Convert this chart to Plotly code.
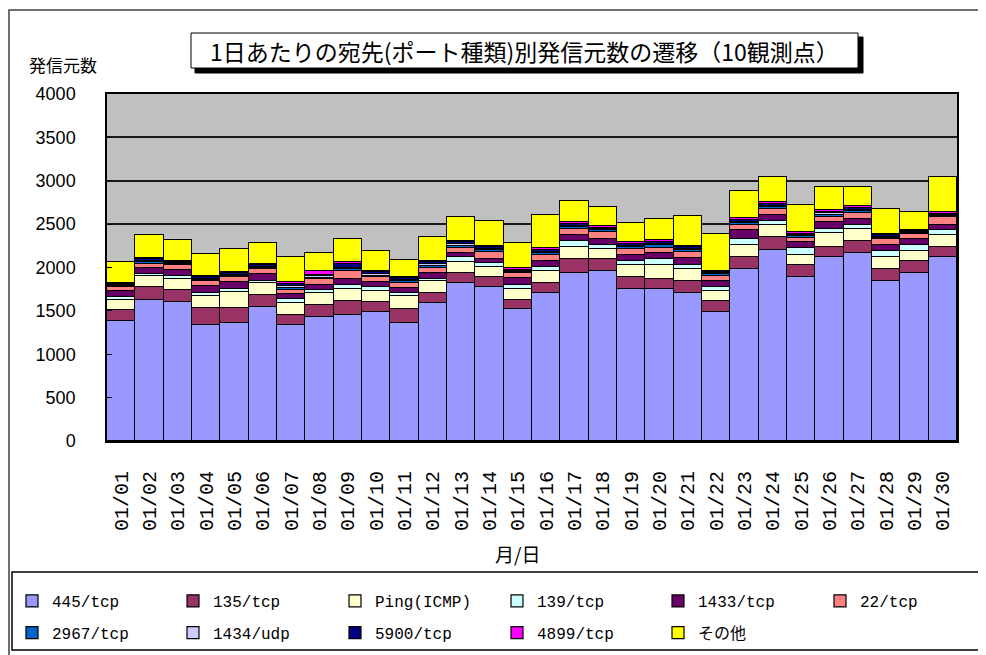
import plotly.graph_objects as go

dates = ["01/%02d" % d for d in range(1, 31)]

s445 = [1380, 1630, 1597, 1341, 1364, 1544, 1341, 1429, 1456, 1483,
        1360, 1594, 1824, 1774, 1525, 1705, 1942, 1961, 1751, 1755,
        1705, 1483, 1984, 2207, 1885, 2122, 2168, 1846, 1935, 2126]
s135 = [135, 140, 138, 191, 165, 142, 115, 142, 161, 118,
        165, 111, 111, 115, 99, 115, 153, 138, 141, 115,
        141, 134, 138, 145, 145, 115, 134, 138, 141, 111]
sping = [115, 130, 131, 134, 184, 138, 138, 134, 137, 130,
         141, 141, 134, 115, 130, 141, 146, 119, 135, 157,
         138, 115, 138, 138, 115, 157, 142, 134, 119, 138]
s139 = [35, 30, 38, 43, 42, 20, 46, 30, 50, 50,
        43, 24, 49, 49, 50, 46, 69, 46, 45, 72,
        50, 46, 73, 50, 77, 50, 46, 73, 69, 61]
s1433 = [65, 60, 65, 76, 76, 76, 49, 69, 65, 50,
         53, 68, 50, 50, 77, 73, 69, 69, 77, 69,
         73, 72, 96, 69, 69, 77, 73, 69, 69, 58]
s22 = [40, 50, 58, 54, 54, 62, 54, 58, 92, 54,
       58, 61, 62, 81, 54, 61, 61, 80, 61, 62,
       77, 54, 57, 61, 53, 65, 61, 65, 57, 84]
s2967 = [15, 20, 15, 18, 17, 15, 25, 20, 18, 22,
         20, 22, 22, 19, 15, 22, 22, 17, 22, 25,
         19, 17, 23, 24, 17, 21, 22, 17, 12, 16]
s1434 = [12, 15, 12, 13, 14, 12, 20, 15, 14, 18,
         16, 18, 18, 15, 12, 18, 18, 13, 18, 20,
         15, 13, 19, 19, 13, 17, 18, 13, 9, 12]
s5900 = [15, 18, 13, 15, 15, 15, 22, 17, 50, 20,
         20, 21, 20, 18, 15, 21, 21, 16, 21, 24,
         18, 16, 22, 23, 16, 20, 21, 16, 11, 15]
s4899 = [15, 17, 13, 15, 15, 15, 21, 40, 18, 20,
         20, 20, 20, 17, 15, 20, 20, 16, 20, 23,
         17, 15, 21, 22, 16, 19, 20, 16, 11, 15]
sother = [238, 264, 242, 257, 268, 241, 287, 210, 268, 222,
          196, 276, 268, 279, 287, 383, 249, 218, 218, 237,
          344, 422, 306, 280, 314, 260, 218, 287, 210, 402]

series_names = ["445/tcp", "135/tcp", "Ping(ICMP)", "139/tcp", "1433/tcp", "22/tcp",
                "2967/tcp", "1434/udp", "5900/tcp", "4899/tcp", "その他"]
series_values = [s445, s135, sping, s139, s1433, s22, s2967, s1434, s5900, s4899, sother]
series_colors = ["#9999FF", "#993366", "#FFFFCC", "#CCFFFF", "#660066", "#FF8080",
                 "#0066CC", "#CCCCFF", "#000080", "#FF00FF", "#FFFF00"]
legend_cols = [0, 1, 2, 3, 4, 5, 0, 1, 2, 3, 4]

# page has an 8px body margin; figure is sized to fill the rest of the window
OFF = 8
W, H = 986 - OFF, 655 - OFF
PL, PR, PT, PB = 107, 957, 94, 441          # plot area in window pixels
L, T = PL - OFF, PT - OFF
R, B = W - (PR - OFF), H - (PB - OFF)
PW, PH = PR - PL, PB - PT


def px(x):
    return (x - PL) / PW


def py(y):
    return (PB - y) / PH


def legkey(c):
    return "legend" if c == 0 else "legend%d" % (c + 1)


fig = go.Figure()
for name, vals, col, c in zip(series_names, series_values, series_colors, legend_cols):
    fig.add_trace(go.Bar(x=dates, y=vals, name=name, legend=legkey(c), legendgroup=name,
                         marker=dict(color=col, line=dict(color="black", width=1.2))))

jp = "Noto Sans CJK JP"
legfont = dict(family="Liberation Mono, " + jp, size=16, color="black")
sym_x = [37, 198, 360, 522, 683, 845]
legends = {}
for c, sx in enumerate(sym_x):
    legends[legkey(c)] = dict(orientation="v", x=px(sx - 25), y=py(584),
                              xanchor="left", yanchor="top", traceorder="grouped",
                              tracegroupgap=8, borderwidth=0, bgcolor="rgba(0,0,0,0)",
                              font=legfont, itemwidth=30)

fig.update_layout(
    width=W, height=H,
    margin=dict(l=L, r=R, t=T, b=B, autoexpand=False),
    barmode="stack", bargap=0.0,
    paper_bgcolor="white", plot_bgcolor="#C0C0C0",
    showlegend=True,
    xaxis=dict(tickangle=-90, showline=True, linecolor="black", linewidth=2, mirror=True,
               ticks="", ticklabelstandoff=20,
               tickfont=dict(family="Liberation Mono", size=20, color="black")),
    yaxis=dict(range=[0, 4000], dtick=500, showgrid=True, gridcolor="#1a1a1a", gridwidth=1.5,
               showline=True, linecolor="black", linewidth=1.5, mirror=True,
               ticks="inside", ticklen=5, tickcolor="black", ticklabelstandoff=26,
               tickfont=dict(family="Liberation Sans", size=18, color="black"),
               zeroline=False),
    shapes=[
        dict(type="rect", xref="paper", yref="paper", x0=px(9), x1=px(995), y0=py(665), y1=py(10),
             line=dict(color="#404040", width=1.5), fillcolor="rgba(0,0,0,0)", layer="below"),
        dict(type="rect", xref="paper", yref="paper", x0=px(12), x1=px(982), y0=py(650), y1=py(572),
             line=dict(color="black", width=1.5), fillcolor="rgba(0,0,0,0)", layer="below"),
        dict(type="rect", xref="paper", yref="paper", x0=px(195), x1=px(863), y0=py(73), y1=py(37),
             line=dict(color="black", width=1), fillcolor="black"),
        dict(type="rect", xref="paper", yref="paper", x0=px(191), x1=px(858), y0=py(68), y1=py(33),
             line=dict(color="black", width=1), fillcolor="white"),
    ],
    annotations=[
        dict(text="1日あたりの宛先(ポート種類)別発信元数の遷移（10観測点）", xref="paper", yref="paper",
             x=px(524), y=py(51), xanchor="center", yanchor="middle", showarrow=False,
             font=dict(family=jp, size=23, color="black")),
        dict(text="発信元数", xref="paper", yref="paper", x=px(27), y=py(64),
             xanchor="left", yanchor="middle", showarrow=False,
             font=dict(family=jp, size=17, color="black")),
        dict(text="月/日", xref="paper", yref="paper", x=px(517), y=py(553),
             xanchor="center", yanchor="middle", showarrow=False,
             font=dict(family=jp, size=19, color="black")),
    ],
    **legends,
)

fig.write_html("out.html")
